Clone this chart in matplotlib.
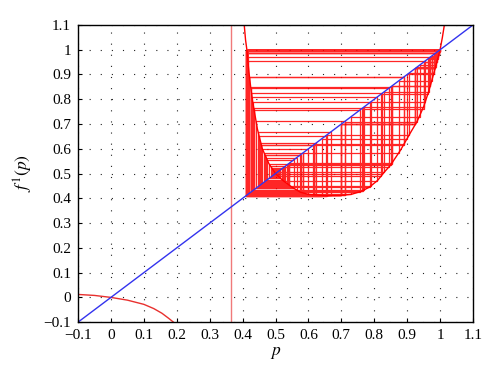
import matplotlib
matplotlib.use("Agg")
import matplotlib.pyplot as plt
import numpy as np

# map curve (two branches + pole near p = 0.366)
left_p = [-0.1, -0.05, 0.0, 0.05, 0.1, 0.13, 0.155, 0.175, 0.19]
left_f = [0.012, 0.008, 0.0, -0.011, -0.028, -0.045, -0.064, -0.084, -0.1]

right_p = [0.405, 0.409, 0.413, 0.417, 0.421, 0.425, 0.430, 0.435, 0.445, 0.460,
           0.480, 0.500, 0.520, 0.550, 0.575, 0.600, 0.650, 0.700, 0.730, 0.760,
           0.785, 0.810, 0.830, 0.850, 0.880, 0.910, 0.930, 0.950, 0.965, 0.980,
           0.990, 1.000, 1.007, 1.013]
right_f = [1.100, 1.040, 1.000, 0.940, 0.890, 0.845, 0.795, 0.757, 0.680, 0.600,
           0.540, 0.500, 0.475, 0.445, 0.425, 0.416, 0.411, 0.412, 0.416, 0.428,
           0.445, 0.472, 0.505, 0.535, 0.595, 0.665, 0.710, 0.770, 0.830, 0.900,
           0.950, 1.000, 1.050, 1.100]

pole_p = 0.366

# cobweb orbit p0, p1, p2, ...
orbit = [
    0.503, 0.496, 0.508, 0.490, 0.520, 0.475, 0.555, 0.441, 0.711, 0.413,
    0.998, 0.990, 0.950, 0.770, 0.435, 0.757, 0.427, 0.825, 0.497, 0.506,
    0.4925, 0.515, 0.481, 0.538, 0.457, 0.616, 0.414, 0.985, 0.925, 0.699,
    0.4125, 0.9985, 0.9925, 0.9625, 0.820, 0.4885, 0.523, 0.472, 0.564, 0.434,
    0.765, 0.431, 0.787, 0.447, 0.669, 0.4115, 0.993, 0.965, 0.830, 0.505,
    0.494, 0.512, 0.485, 0.530, 0.465, 0.585, 0.421, 0.890, 0.618, 0.414,
    0.985, 0.925, 0.699, 0.412, 0.9995, 0.9975, 0.9875, 0.9375, 0.730, 0.416,
    0.955, 0.790, 0.450, 0.653, 0.411, 0.996, 0.980, 0.900, 0.640, 0.4112,
    0.9992, 0.9962, 0.9810, 0.9065, 0.657, 0.4112, 0.9990, 0.995, 0.975, 0.875,
    0.585, 0.421, 0.889, 0.615, 0.414, 0.985, 0.925, 0.699, 0.412, 0.998,
    0.990, 0.950, 0.7625, 0.4285, 0.808, 0.469, 0.575, 0.425, 0.845, 0.527,
    0.468, 0.576, 0.4245, 0.850, 0.535, 0.460, 0.600, 0.4165, 0.970, 0.853,
    0.5395, 0.4555, 0.6165, 0.4138, 0.9985, 0.994, 0.970, 0.855, 0.541, 0.454,
    0.622, 0.4135, 0.9975, 0.988, 0.930, 0.710, 0.412,
]

ticks = [-0.1, 0.0, 0.1, 0.2, 0.3, 0.4, 0.5, 0.6, 0.7, 0.8, 0.9, 1.0, 1.1]
tick_labels = ["\u22120.1", "0", "0.1", "0.2", "0.3", "0.4", "0.5", "0.6",
               "0.7", "0.8", "0.9", "1", "1.1"]

plt.rcParams["font.family"] = ["Liberation Serif", "DejaVu Serif"]
plt.rcParams["mathtext.fontset"] = "stix"

fig = plt.figure(figsize=(5.0, 3.84), dpi=100)
ax = fig.add_axes([0.156, 0.161, 0.790, 0.774])

ax.grid(True, color="#222222", linestyle=(0, (1, 9)), linewidth=0.8)
ax.set_axisbelow(True)

# cobweb
xs, ys = [orbit[0]], [orbit[0]]
for a, b in zip(orbit[:-1], orbit[1:]):
    xs += [a, b]
    ys += [b, b]
ax.plot(xs, ys, color="#ff0000", lw=0.9, alpha=0.85)

ax.plot(left_p, left_f, color="#e8302e", lw=1.0)
ax.plot(right_p, right_f, color="#ff0000", lw=1.0)
ax.axvline(pole_p, color="#f07a7a", lw=1.0)
ax.plot([-0.1, 1.1], [-0.1, 1.1], color="#3333ee", lw=1.0)

ax.set_xlim(-0.1, 1.1)
ax.set_ylim(-0.1, 1.1)
ax.set_xticks(ticks)
ax.set_xticklabels(tick_labels)
ax.set_yticks(ticks)
ax.set_yticklabels(tick_labels)
ax.tick_params(direction="in", length=3, labelsize=11, pad=5)
for s in ax.spines.values():
    s.set_linewidth(1.0)

ax.set_xlabel("$p$", fontsize=12.5, labelpad=2)
ax.set_ylabel("$f^1(p)$", fontsize=12.5, labelpad=6)

fig.savefig("out.png", dpi=100)
